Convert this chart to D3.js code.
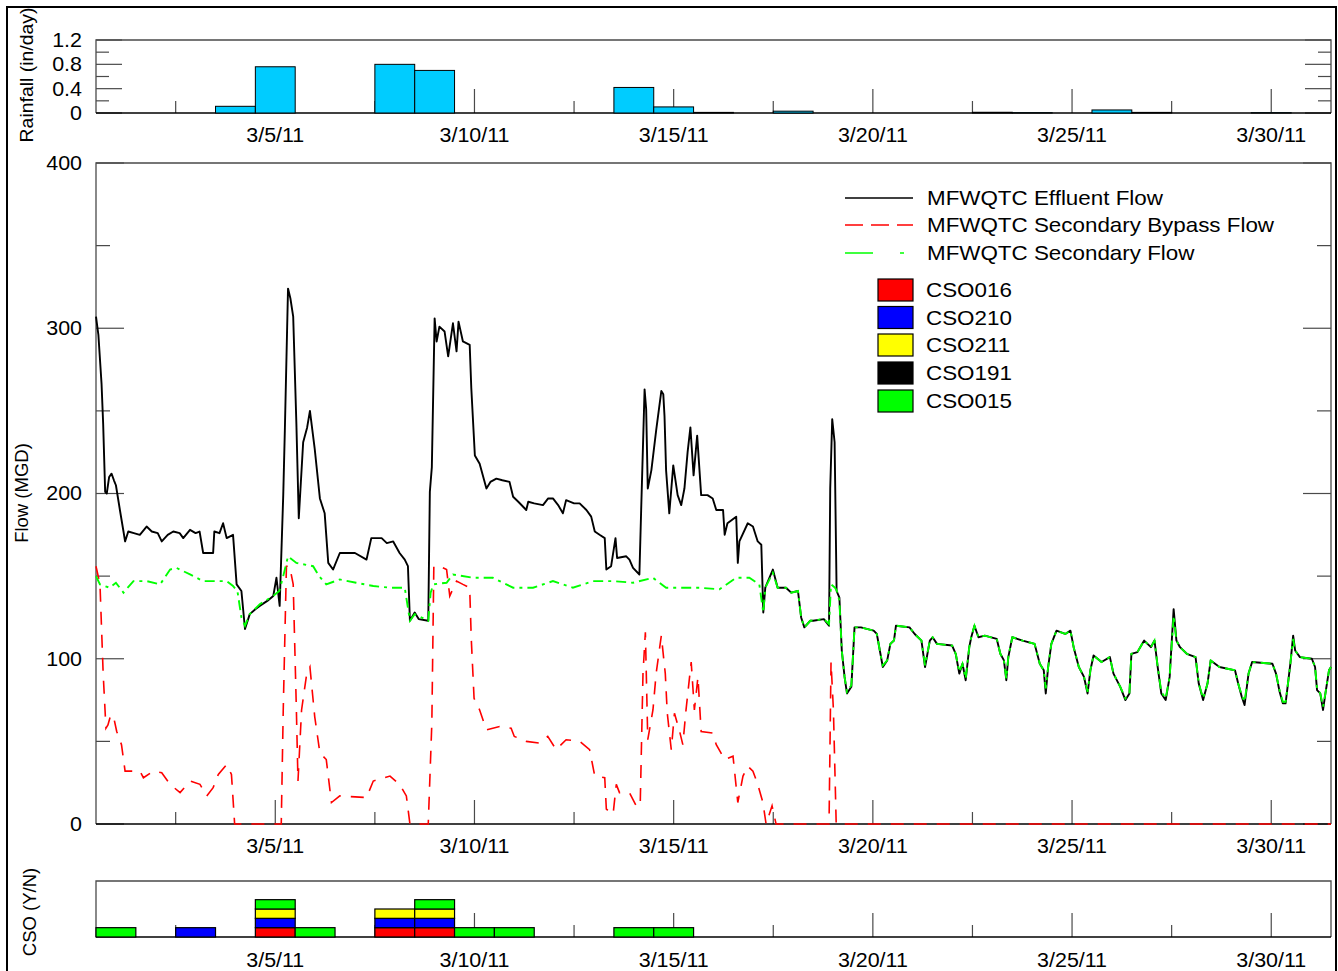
<!DOCTYPE html>
<html><head><meta charset="utf-8">
<script src="https://cdn.jsdelivr.net/npm/d3@7"></script>
<style>
body{margin:0;background:#fff}
svg{display:block}
text{font-family:"Liberation Sans",Arial,sans-serif;fill:#000}
</style>
</head><body>
<svg id="c" width="1338" height="971"></svg>
<script>
// ---------------- DATA ----------------
const majorTickDates = ["2011-03-05T12:00Z","2011-03-10T12:00Z","2011-03-15T12:00Z","2011-03-20T12:00Z","2011-03-25T12:00Z","2011-03-30T12:00Z"];
const majorTickLabels = ["3/5/11","3/10/11","3/15/11","3/20/11","3/25/11","3/30/11"];
const minorTickDates = ["2011-03-03T00:00Z","2011-03-08T00:00Z","2011-03-13T00:00Z","2011-03-18T00:00Z","2011-03-23T00:00Z","2011-03-28T00:00Z"];

const rainDays   = ["2011-03-04","2011-03-05","2011-03-08","2011-03-09","2011-03-14","2011-03-15","2011-03-16","2011-03-18","2011-03-23","2011-03-24","2011-03-26","2011-03-27","2011-03-30"];
const rainValues = [0.11, 0.76, 0.80, 0.70, 0.42, 0.10, 0.01, 0.03, 0.012, 0.006, 0.05, 0.01, 0.006];
const rainTicksMajor = [0, 0.4, 0.8, 1.2];
const rainTicksMinor = [0.2, 0.6, 1.0];

const flowTicksMajor = [0, 100, 200, 300, 400];
const flowTicksMinor = [50, 150, 250, 350];

// [days since 3/1/11 00:00, MGD]
const effluentFlow = [[0,307],[0.06,296],[0.14,266],[0.18,242],[0.23,201],[0.27,200],[0.33,210],[0.39,212],[0.45,208],[0.5,205],[0.6,190],[0.69,177],[0.73,171],[0.81,177],[0.95,176],[1.1,175],[1.27,180],[1.4,177],[1.55,176],[1.65,171],[1.8,175],[1.94,177],[2.1,176],[2.19,173],[2.36,178],[2.5,176],[2.6,177],[2.69,164],[2.94,164],[2.97,177],[3.1,176],[3.19,182],[3.28,173],[3.44,175],[3.53,145],[3.65,141],[3.74,118],[3.86,127],[4.0,130],[4.11,132],[4.3,135],[4.45,138],[4.53,149],[4.61,132],[4.7,199],[4.74,238],[4.82,324],[4.88,318],[4.95,307],[5.03,242],[5.09,185],[5.2,231],[5.3,240],[5.37,250],[5.49,227],[5.62,197],[5.74,188],[5.83,158],[5.95,154],[6.12,164],[6.5,164],[6.79,160],[6.91,173],[7.17,173],[7.3,170],[7.46,171],[7.62,164],[7.75,160],[7.83,156],[7.88,123],[8.0,128],[8.1,124],[8.34,123],[8.38,201],[8.43,216],[8.5,306],[8.55,292],[8.62,301],[8.75,298],[8.84,283],[8.96,303],[9.05,286],[9.1,304],[9.21,292],[9.38,290],[9.42,264],[9.51,223],[9.63,218],[9.8,203],[9.9,207],[10.05,209],[10.2,208],[10.38,207],[10.47,198],[10.6,195],[10.8,190],[10.85,195],[11.0,194],[11.22,193],[11.35,197],[11.47,197],[11.6,193],[11.72,188],[11.8,196],[12.0,194],[12.14,194],[12.31,190],[12.43,186],[12.52,177],[12.64,175],[12.77,173],[12.81,154],[12.93,156],[13.04,173],[13.08,161],[13.31,162],[13.39,160],[13.48,155],[13.64,151],[13.69,195],[13.77,263],[13.81,251],[13.85,203],[13.94,214],[14.06,238],[14.19,262],[14.24,260],[14.27,247],[14.31,214],[14.39,188],[14.49,217],[14.6,199],[14.69,193],[14.77,203],[14.85,225],[14.92,240],[15.0,211],[15.09,235],[15.19,199],[15.35,199],[15.48,197],[15.57,190],[15.74,190],[15.78,175],[15.85,182],[16.07,186],[16.11,158],[16.15,171],[16.36,182],[16.49,180],[16.61,171],[16.7,169],[16.75,128],[16.8,143],[16.99,154],[17.11,143],[17.32,143],[17.45,140],[17.62,141],[17.7,125],[17.78,119],[17.93,123],[18.0,123],[18.27,124],[18.4,120],[18.43,203],[18.48,245],[18.54,231],[18.59,141],[18.66,137],[18.72,105],[18.79,89],[18.85,79],[18.96,83],[19.0,101],[19.04,119],[19.2,119],[19.52,117],[19.6,115],[19.69,103],[19.75,95],[19.86,99],[19.94,109],[20.03,111],[20.08,120],[20.42,119],[20.55,115],[20.72,111],[20.81,95],[20.93,111],[21.0,113],[21.11,109],[21.49,108],[21.58,103],[21.67,91],[21.75,97],[21.83,87],[21.92,107],[21.97,113],[22.05,120],[22.15,113],[22.31,114],[22.61,112],[22.7,103],[22.79,99],[22.85,87],[22.9,101],[23.0,113],[23.26,111],[23.56,109],[23.69,97],[23.79,93],[23.84,79],[23.9,95],[23.98,109],[24.11,117],[24.33,115],[24.46,117],[24.54,107],[24.67,95],[24.8,89],[24.89,79],[24.96,93],[25.04,102],[25.24,98],[25.45,101],[25.54,91],[25.71,83],[25.84,75],[25.94,79],[25.99,103],[26.14,104],[26.31,111],[26.48,107],[26.57,111],[26.65,95],[26.74,79],[26.85,75],[26.95,89],[27.05,130],[27.12,111],[27.21,107],[27.38,103],[27.6,101],[27.68,85],[27.79,75],[27.9,85],[27.98,99],[28.2,95],[28.59,93],[28.67,85],[28.76,77],[28.83,72],[28.93,91],[29.02,98],[29.53,97],[29.62,91],[29.71,80],[29.79,73],[29.86,73],[29.92,85],[29.98,97],[30.05,114],[30.1,105],[30.22,101],[30.52,100],[30.6,95],[30.65,81],[30.73,79],[30.8,69],[30.86,79],[30.95,93],[31,95]];

const bypassFlow = [[0,156],[0.1,145],[0.18,91],[0.25,58],[0.3,60],[0.37,66],[0.44,65],[0.52,56],[0.64,48],[0.73,32],[1.1,32],[1.19,28],[1.44,32],[1.65,31],[1.86,24],[2.11,19],[2.36,26],[2.61,24],[2.78,17],[2.94,22],[3.07,30],[3.28,36],[3.4,30],[3.48,0],[4.65,0],[4.7,69],[4.78,156],[4.86,156],[4.95,145],[5.03,69],[5.07,26],[5.16,69],[5.29,91],[5.37,95],[5.49,65],[5.62,43],[5.78,39],[5.91,13],[6.12,17],[6.79,16],[6.96,26],[7.38,29],[7.62,24],[7.79,17],[7.88,0],[8.34,0],[8.43,61],[8.48,156],[8.63,156],[8.8,154],[8.88,138],[9.05,147],[9.21,145],[9.38,143],[9.42,112],[9.49,76],[9.63,69],[9.8,57],[10.13,59],[10.42,58],[10.5,53],[10.8,50],[11.13,49],[11.34,53],[11.55,45],[11.8,51],[12.14,50],[12.39,45],[12.52,29],[12.77,28],[12.81,9],[12.98,6],[13.06,24],[13.14,19],[13.39,19],[13.56,11],[13.66,11],[13.73,91],[13.79,116],[13.85,51],[13.98,69],[14.06,91],[14.19,114],[14.29,91],[14.34,67],[14.44,45],[14.52,67],[14.65,56],[14.73,48],[14.81,69],[14.94,98],[15.02,69],[15.11,89],[15.19,56],[15.48,55],[15.57,48],[15.78,39],[15.99,41],[16.11,13],[16.24,29],[16.36,35],[16.49,32],[16.61,24],[16.74,13],[16.82,0],[16.97,11],[17.07,0],[18.4,0],[18.45,98],[18.51,69],[18.58,0],[31,0]];

const secondaryFlow = [[0,150],[0.1,145],[0.34,143],[0.5,146],[0.69,140],[0.94,147],[1.27,147],[1.61,145],[1.86,154],[2.02,155],[2.36,151],[2.69,147],[3.03,147],[3.28,147],[3.44,144],[3.55,141],[3.65,125],[3.74,120],[3.86,127],[4.11,133],[4.45,138],[4.6,141],[4.7,150],[4.82,162],[5.03,158],[5.45,156],[5.6,150],[5.78,145],[6.12,148],[6.53,146],[6.96,144],[7.38,143],[7.75,143],[7.88,123],[8.0,127],[8.34,123],[8.4,140],[8.47,145],[8.8,146],[8.96,151],[9.46,149],[9.96,149],[10.47,143],[10.97,143],[11.47,147],[11.97,143],[12.48,147],[12.98,147],[13.48,146],[13.98,149],[14.31,143],[14.73,143],[15.15,143],[15.65,142],[16.07,149],[16.4,149],[16.65,145],[16.75,128],[16.8,143],[16.99,152],[17.11,143],[17.32,143],[17.45,140],[17.62,141],[17.7,125],[17.78,119],[17.93,123],[18.27,124],[18.4,121],[18.45,145],[18.55,143],[18.6,141],[18.66,135],[18.72,105],[18.79,89],[18.85,80],[18.96,84],[19.0,101],[19.04,119],[19.2,119],[19.52,117],[19.6,115],[19.69,103],[19.75,96],[19.86,99],[19.94,109],[20.03,111],[20.08,120],[20.42,119],[20.55,115],[20.72,111],[20.81,96],[20.93,111],[21.0,113],[21.11,109],[21.49,108],[21.58,103],[21.67,92],[21.75,97],[21.83,88],[21.92,107],[21.97,113],[22.05,120],[22.15,113],[22.31,114],[22.61,112],[22.7,103],[22.79,99],[22.85,88],[22.9,101],[23.0,113],[23.26,111],[23.56,109],[23.69,97],[23.79,93],[23.84,82],[23.9,95],[23.98,109],[24.11,117],[24.33,115],[24.46,117],[24.54,107],[24.67,95],[24.8,89],[24.89,80],[24.96,93],[25.04,102],[25.24,98],[25.45,101],[25.54,91],[25.71,83],[25.84,76],[25.94,79],[25.99,103],[26.14,104],[26.31,111],[26.48,107],[26.57,111],[26.65,95],[26.74,80],[26.85,76],[26.95,89],[27.05,126],[27.12,111],[27.21,107],[27.38,103],[27.6,101],[27.68,85],[27.79,76],[27.9,85],[27.98,99],[28.2,95],[28.59,93],[28.67,85],[28.76,78],[28.83,74],[28.93,91],[29.02,98],[29.53,97],[29.62,91],[29.71,81],[29.79,74],[29.86,74],[29.92,85],[29.98,97],[30.05,112],[30.1,105],[30.22,101],[30.52,100],[30.6,95],[30.65,82],[30.73,79],[30.8,71],[30.86,79],[30.95,93],[31,95]];

const lineSeries = ["MFWQTC Effluent Flow","MFWQTC Secondary Bypass Flow","MFWQTC Secondary Flow"];

const csoNames = ["CSO016","CSO210","CSO211","CSO191","CSO015"];
const csoDays  = ["2011-03-01","2011-03-03","2011-03-05","2011-03-06","2011-03-08","2011-03-09","2011-03-10","2011-03-11","2011-03-14","2011-03-15"];
const cso016 = [0,0,1,0,1,1,0,0,0,0];
const cso210 = [0,1,1,0,1,1,0,0,0,0];
const cso211 = [0,0,1,0,1,1,0,0,0,0];
const cso191 = [0,0,0,0,0,0,0,0,0,0];
const cso015 = [1,0,1,1,0,1,1,1,1,1];

// ---------------- STYLE ----------------
const C = {black:"#000000", red:"#ff0000", green:"#00ff00", blue:"#0000ff", yellow:"#ffff00", rain:"#00ccff", frame:"#4a4a4a"};
const csoColors = [C.red, C.blue, C.yellow, C.black, C.green];

const svg = d3.select("#c");
const X0 = 96, X1 = 1331;
const t0 = Date.UTC(2011,2,1);
const day = d => new Date(t0 + d*864e5);
const x = d3.scaleUtc().domain([new Date(Date.UTC(2011,2,1)), new Date(Date.UTC(2011,3,1))]).range([X0, X1]);
const yRain = d3.scaleLinear().domain([0,1.2]).range([113,40]);
const yFlow = d3.scaleLinear().domain([0,400]).range([824,163]);
const yCso  = d3.scaleLinear().domain([0,6]).range([937,881]);

function txt(g, px, py, s, o={}) {
  const size = o.size || 19.5, sx = o.sx || 1.1, rot = o.rot || 0;
  return g.append("text")
    .attr("transform", `translate(${px},${py}) rotate(${rot}) scale(${sx},1)`)
    .attr("text-anchor", o.anchor || "middle")
    .attr("dy", "0.35em")
    .style("font-size", size + "px")
    .text(s);
}

// outer border
svg.append("rect").attr("x",7).attr("y",7).attr("width",1329).attr("height",1010)
  .attr("fill","none").attr("stroke","#000").attr("stroke-width",2);

function frame(yTop, yBot) {
  const g = svg.append("g");
  g.append("path").attr("d", `M${X0},${yBot}V${yTop}H${X1}V${yBot}`).attr("fill","none").attr("stroke",C.frame).attr("stroke-width",1.3);
  return g;
}
function xTicks(g, yBot) {
  majorTickDates.forEach(d => {
    const px = x(new Date(d));
    g.append("line").attr("x1",px).attr("x2",px).attr("y1",yBot).attr("y2",yBot-24).attr("stroke",C.frame).attr("stroke-width",1.2);
  });
  minorTickDates.forEach(d => {
    const px = x(new Date(d));
    g.append("line").attr("x1",px).attr("x2",px).attr("y1",yBot).attr("y2",yBot-12).attr("stroke",C.frame).attr("stroke-width",1.2);
  });
}
function xLabels(g, labelY) {
  majorTickDates.forEach((d,i) => txt(g, x(new Date(d)), labelY, majorTickLabels[i]));
}
function yTicks(g, scale, majors, minors, lenMaj, lenMin, fmt) {
  majors.forEach(v => {
    const py = scale(v);
    g.append("line").attr("x1",X0).attr("x2",X0+lenMaj).attr("y1",py).attr("y2",py).attr("stroke",C.frame).attr("stroke-width",1.2);
    g.append("line").attr("x1",X1).attr("x2",X1-lenMaj).attr("y1",py).attr("y2",py).attr("stroke",C.frame).attr("stroke-width",1.2);
    txt(g, 82, py, fmt(v), {anchor:"end"});
  });
  minors.forEach(v => {
    const py = scale(v);
    g.append("line").attr("x1",X0).attr("x2",X0+lenMin).attr("y1",py).attr("y2",py).attr("stroke",C.frame).attr("stroke-width",1.2);
    g.append("line").attr("x1",X1).attr("x2",X1-lenMin).attr("y1",py).attr("y2",py).attr("stroke",C.frame).attr("stroke-width",1.2);
  });
}

// ---------- Rainfall panel ----------
const gR = frame(40, 113);
xTicks(gR, 113);
yTicks(gR, yRain, rainTicksMajor, rainTicksMinor, 26, 13, v => v === 0 ? "0" : d3.format(".1f")(v));
gR.append("line").attr("x1",X0).attr("x2",X1).attr("y1",113).attr("y2",113).attr("stroke","#000").attr("stroke-width",1.5);
gR.selectAll("rect.rain").data(rainDays.map((d,i)=>({d:new Date(d+"T00:00Z"), v:rainValues[i]}))).enter()
  .append("rect").attr("class","rain")
  .attr("x", d => x(d.d)).attr("width", d => x(d3.utcDay.offset(d.d,1)) - x(d.d))
  .attr("y", d => yRain(d.v)).attr("height", d => yRain(0) - yRain(d.v))
  .attr("fill", C.rain).attr("stroke","#000").attr("stroke-width",1);
xLabels(gR, 135);
txt(svg, 27, 75, "Rainfall (in/day)", {rot:-90, size:18.5, sx:1.05});

// ---------- Flow panel ----------
const gF = frame(163, 824);
xTicks(gF, 824);
yTicks(gF, yFlow, flowTicksMajor, flowTicksMinor, 28, 14, d3.format("d"));
gF.append("line").attr("x1",X0).attr("x2",X1).attr("y1",824).attr("y2",824).attr("stroke","#000").attr("stroke-width",1.5);
const line = d3.line().x(d => x(day(d[0]))).y(d => yFlow(d[1]));
gF.append("path").datum(effluentFlow).attr("d", line).attr("fill","none").attr("stroke",C.black).attr("stroke-width",1.9).attr("stroke-linejoin","round");
gF.append("path").datum(bypassFlow).attr("d", line).attr("fill","none").attr("stroke",C.red).attr("stroke-width",1.6).attr("stroke-dasharray","13,10");
gF.append("path").datum(secondaryFlow).attr("d", line).attr("fill","none").attr("stroke",C.green).attr("stroke-width",1.9).attr("stroke-dasharray","10,5,3,5");
xLabels(gF, 846);
txt(svg, 22, 493, "Flow (MGD)", {rot:-90, size:18.5, sx:1.0});

// legend
const legendRows = [198, 225, 253];
const legStyles = [{c:C.black, dash:null}, {c:C.red, dash:"18,8"}, {c:C.green, dash:"28,27,4,30"}];
lineSeries.forEach((name,i) => {
  gF.append("line").attr("x1",845).attr("x2",913).attr("y1",legendRows[i]).attr("y2",legendRows[i])
    .attr("stroke",legStyles[i].c).attr("stroke-width",1.3).attr("stroke-dasharray",legStyles[i].dash);
  txt(gF, 927, legendRows[i], name, {anchor:"start", size:20, sx:1.12});
});
const csoRows = [290, 317.5, 345, 373, 401];
csoNames.forEach((name,i) => {
  gF.append("rect").attr("x",878).attr("y",csoRows[i]-11).attr("width",35).attr("height",22)
    .attr("fill",csoColors[i]).attr("stroke","#000").attr("stroke-width",1.2);
  txt(gF, 926, csoRows[i], name, {anchor:"start", size:20, sx:1.12});
});

// ---------- CSO panel ----------
const gC = frame(881, 937);
xTicks(gC, 937);
gC.append("line").attr("x1",X0).attr("x2",X1).attr("y1",937).attr("y2",937).attr("stroke","#000").attr("stroke-width",1.5);
const csoTable = csoDays.map((d,i) => ({date:new Date(d+"T00:00Z"), CSO016:cso016[i], CSO210:cso210[i], CSO211:cso211[i], CSO191:cso191[i], CSO015:cso015[i]}));
const stack = d3.stack().keys(csoNames)(csoTable);
stack.forEach((layer,k) => {
  gC.selectAll(null).data(layer.filter(s => s[1] > s[0])).enter().append("rect")
    .attr("x", s => x(s.data.date)).attr("width", s => x(d3.utcDay.offset(s.data.date,1)) - x(s.data.date))
    .attr("y", s => yCso(s[1])).attr("height", s => yCso(s[0]) - yCso(s[1]))
    .attr("fill", csoColors[k]).attr("stroke","#000").attr("stroke-width",1.2);
});
xLabels(gC, 960);
txt(svg, 30, 912, "CSO (Y/N)", {rot:-90, size:18.5, sx:1.0});
</script>
</body></html>
